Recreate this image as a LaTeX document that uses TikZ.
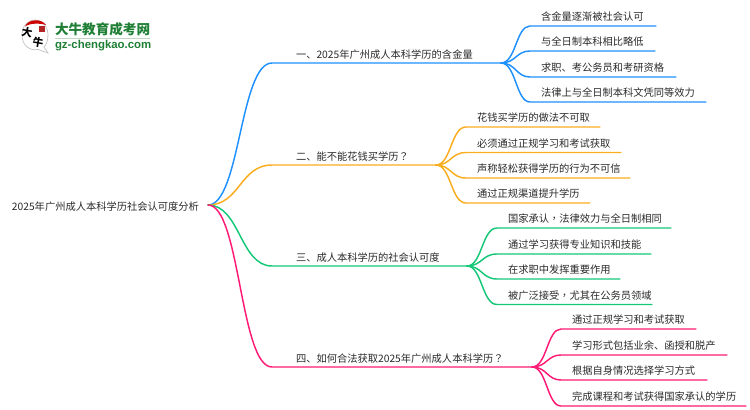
\documentclass[tikz,border=0pt]{standalone}
\usepackage{fontspec}
\setmainfont{Noto Sans CJK SC}
\newfontfamily\urlfont{Liberation Sans}
\newfontfamily\tcfont{Noto Sans CJK TC}
\definecolor{blueline}{HTML}{1E90FF}
\definecolor{orangeline}{HTML}{FAAD1E}
\definecolor{greenline}{HTML}{14C878}
\definecolor{pinkline}{HTML}{FF1A75}
\definecolor{inktext}{HTML}{2A2A2A}
\definecolor{logogreen}{HTML}{1F7F35}
\tikzset{
  every node/.style={inner sep=0pt, outer sep=0pt, text=inktext, font=\fontsize{7.7}{9}\selectfont},
  rootnode/.style={anchor=east, inner xsep=6.75pt, text height=9pt, text depth=1.5pt},
  branchnode/.style={anchor=south west, inner ysep=2.6pt},
  leafnode/.style={anchor=south west, inner ysep=3.2pt},
  handtext/.style={font=\fontsize{8}{8}\selectfont\bfseries, text=black, rotate=-10},
  link/.style={line width=1.1pt, line cap=round},
}

\begin{document}
\begin{tikzpicture}[x=0.75pt, y=-0.75pt]
\useasboundingbox (0,0) rectangle (750,410);
\pgfmathsetmacro\bpad{24*0.75}
\pgfmathsetmacro\lpad{11*0.75}

% logo
\draw[gray!50, fill=white, line width=0.5pt] (35,20) .. controls (43,20) and (48,27) .. (48,35) .. controls (48,41) and (46,45) .. (44,47) -- (48,53) -- (38,49.5) .. controls (28,51) and (22,44) .. (22,35) .. controls (22,27) and (27,20) .. (35,20) -- cycle;
\fill[red!80!black] (25,26.5) .. controls (28,18.5) and (42,18.5) .. (46,25) .. controls (40,23) and (30,23) .. cycle;
\node[fill=red!65!black!85, minimum size=4.5pt] (seal) at (42,29) {};
\node[handtext] (handa) at (27,32.5) {大};
\node[handtext] (handb) at (38,42.5) {牛};
\node[anchor=west, font=\fontsize{10.2}{12}\selectfont\bfseries, text=logogreen] (logotitle) at (55,29) {大牛教育成考网};
\node[anchor=west, font=\urlfont\fontsize{8.55}{10}\selectfont\bfseries, text=logogreen] (logourl) at (55,45.5) {gz-chengkao.com};
\draw[green!20!gray!40, line width=0.6pt] (logotitle.west |- 0,38) -- (logotitle.east |- 0,38);

% root and branches
\node[rootnode] (root) at (208,205) {2025年广州成人本科学历社会认可度分析};
\node[branchnode, text width=229*0.75pt] (one) at (272,63) {\hspace*{\bpad pt}一、2025年广州成人本科学历的含金量};
\node[branchnode, text width=164*0.75pt] (two) at (272,165) {\hspace*{\bpad pt}二、能不能花钱买学历{\tcfont ？}};
\node[branchnode, text width=195*0.75pt] (three) at (272,266) {\hspace*{\bpad pt}三、成人本科学历的社会认可度};
\node[branchnode, text width=260*0.75pt] (four) at (272,367) {\hspace*{\bpad pt}四、如何合法获取2025年广州成人本科学历{\tcfont ？}};

\foreach \b/\c in {one/blueline, two/orangeline, three/greenline, four/pinkline}
{
    \draw[link, \c] (root.east) .. controls (240,205) and (240,0 |- \b.south west) .. (\b.south west) -- (\b.south east);
}

% leaves of each branch
\foreach \y/\w/\t [count=\i] in {26/126/含金量逐渐被社会认可, 51/125/与全日制本科相比略低, 77/146/求职、考公务员和考研资格, 102/176/法律上与全日制本科文凭同等效力}
{
    \node[leafnode, text width=\w*0.75pt] (one\i) at (530,\y) {\hspace*{\lpad pt}\t};
    \draw[link, blueline] (one.south east) .. controls (516,63) and (516,\y) .. (one\i.south west) -- (one\i.south east);
}

\foreach \y/\w/\t [count=\i] in {127/134/花钱买学历的做法不可取, 152.5/155/必须通过正规学习和考试获取, 178/164/声称轻松获得学历的行为不可信, 203/124/通过正规渠道提升学历}
{
    \node[leafnode, text width=\w*0.75pt] (two\i) at (466,\y) {\hspace*{\lpad pt}\t};
    \draw[link, orangeline] (two.south east) .. controls (451,165) and (451,\y) .. (two\i.south west) -- (two\i.south east);
}

\foreach \y/\w/\t [count=\i] in {228/174/国家承认{\tcfont ，}法律效力与全日制相同, 254/154/通过学习获得专业知识和技能, 279/123/在求职中发挥重要作用, 304.5/155/被广泛接受{\tcfont ，}尤其在公务员领域}
{
    \node[leafnode, text width=\w*0.75pt] (three\i) at (497,\y) {\hspace*{\lpad pt}\t};
    \draw[link, greenline] (three.south east) .. controls (482,266) and (482,\y) .. (three\i.south west) -- (three\i.south east);
}

\foreach \y/\w/\t [count=\i] in {329/135/通过正规学习和考试获取, 355/166/学习形式包括业余、函授和脱产, 380/146/根据自身情况选择学习方式, 406/185/完成课程和考试获得国家承认的学历}
{
    \node[leafnode, text width=\w*0.75pt] (four\i) at (561,\y) {\hspace*{\lpad pt}\t};
    \draw[link, pinkline] (four.south east) .. controls (547,367) and (547,\y) .. (four\i.south west) -- (four\i.south east);
}
\end{tikzpicture}
\end{document}
